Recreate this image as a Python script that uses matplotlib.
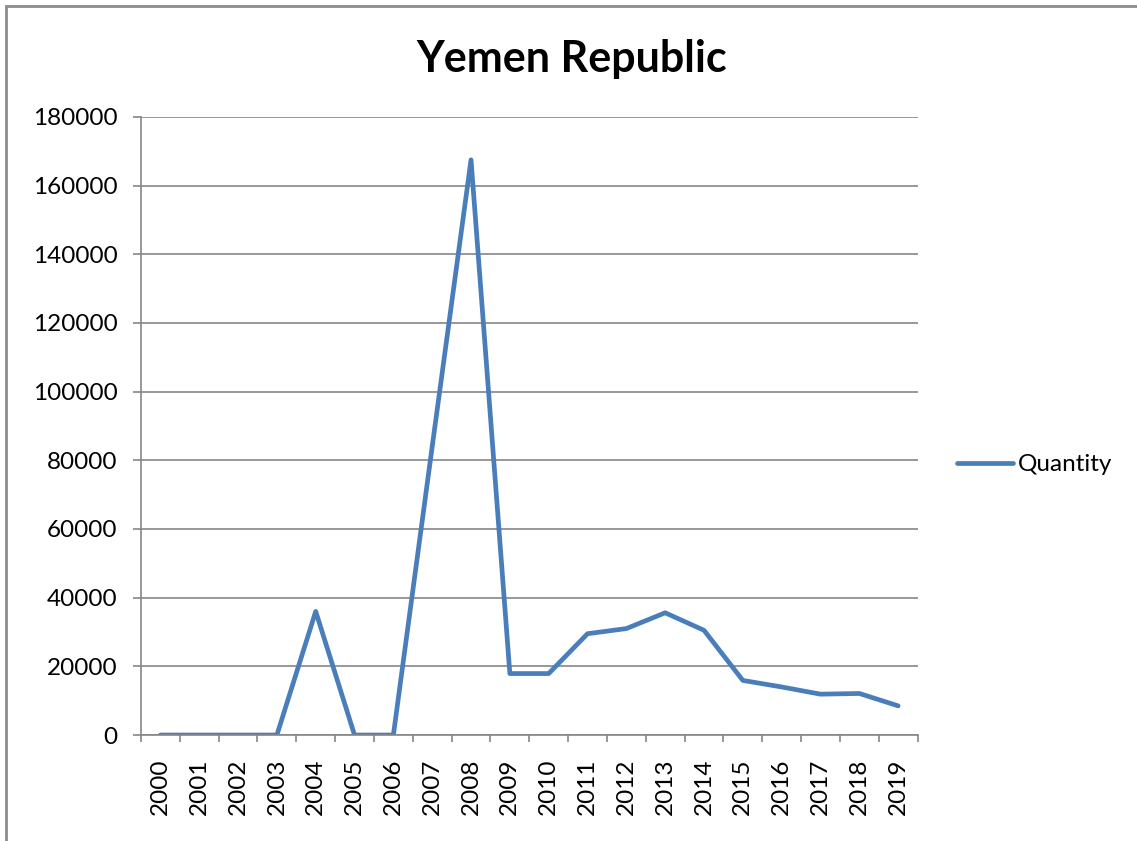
import matplotlib
matplotlib.use("Agg")
from matplotlib import pyplot as plt
from matplotlib.patches import Rectangle
import numpy as np

years = [str(y) for y in range(2000, 2020)]
quantity = [0, 0, 0, 0, 36000, 0, 0, 84000, 167500, 17900,
            17900, 29500, 31000, 35600, 30500, 15900, 14000, 11900, 12100, 8500]

plt.rcParams['font.family'] = ['Lato', 'DejaVu Sans']

fig = plt.figure(figsize=(11.37, 8.41), dpi=100)
ax = fig.add_axes([0.124, 0.126, 0.683, 0.735])

grid_c = '#868686'
x = np.arange(len(years))
ax.plot(x, quantity, color='#4a7ebb', linewidth=3.4, solid_joinstyle='round',
        solid_capstyle='round', label='Quantity')

ax.set_xlim(-0.5, len(years) - 0.5)
ax.set_ylim(0, 180000)
ax.set_yticks(np.arange(0, 180001, 20000))
ax.yaxis.grid(True, color=grid_c, linewidth=1.2)
ax.set_axisbelow(True)

ax.set_xticks(x)
ax.set_xticklabels(years, rotation=90, fontsize=17.5)
ax.set_xticks(np.arange(-0.5, len(years), 1), minor=True)
ax.tick_params(axis='x', which='major', length=0, pad=17)
ax.tick_params(axis='x', which='minor', length=5, color=grid_c, width=1.2)
ax.tick_params(axis='y', length=6, color=grid_c, width=1.2, labelsize=17.5, pad=11)

for s in ['top', 'right']:
    ax.spines[s].set_visible(False)
for s in ['left', 'bottom']:
    ax.spines[s].set_color(grid_c)
    ax.spines[s].set_linewidth(1.2)

# title is centred on the whole chart, not on the plot area
fig.text(0.503, 0.93, 'Yemen Republic', fontsize=31, fontweight='bold',
         ha='center', va='center')

ax.legend(loc='center left', bbox_to_anchor=(1.051, 0.437), frameon=False,
          fontsize=17.5, handlelength=2.3, handletextpad=0.2,
          borderpad=0, borderaxespad=0)

# chart frame: only left and top edges are visible
fig.patches.append(Rectangle((0.005, -0.05), 1.2, 1.043, transform=fig.transFigure,
                             fill=False, edgecolor='#8c8c8c', linewidth=2))

fig.savefig('out.png', dpi=100)
